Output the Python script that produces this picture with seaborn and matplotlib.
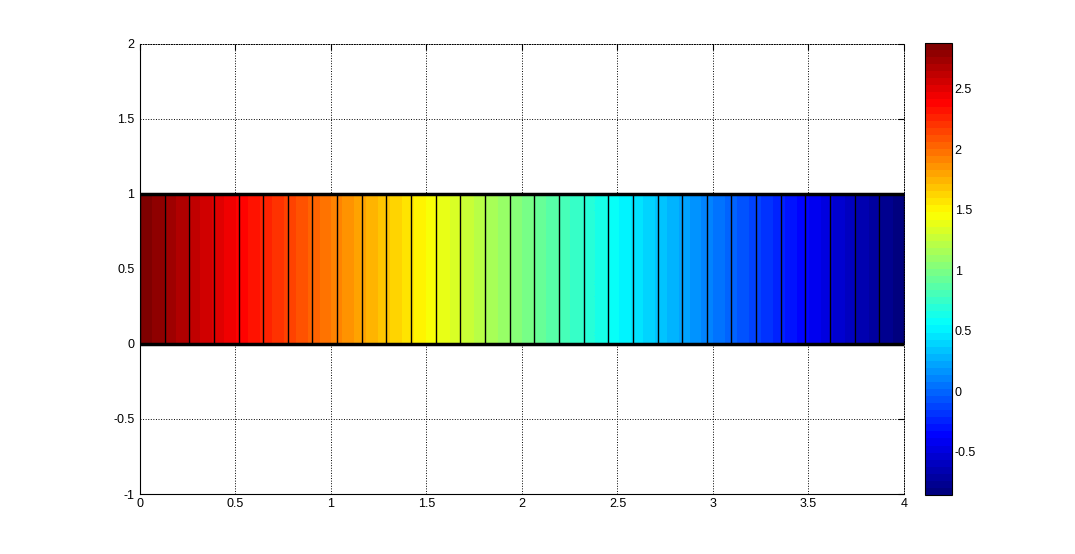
import matplotlib
matplotlib.use("Agg")
import matplotlib.pyplot as plt
from matplotlib.colors import LinearSegmentedColormap
import numpy as np
import seaborn as sns

# cell edges along x (31 cells between 0 and 4)
x_edges = [0.000, 0.129, 0.258, 0.387, 0.516, 0.645, 0.774, 0.903,
           1.032, 1.161, 1.290, 1.419, 1.548, 1.677, 1.806, 1.935,
           2.065, 2.194, 2.323, 2.452, 2.581, 2.710, 2.839, 2.968,
           3.097, 3.226, 3.355, 3.484, 3.613, 3.742, 3.871, 4.000]
# colour value at each edge node
node_vals = [2.88, 2.76, 2.64, 2.52, 2.40, 2.28, 2.16, 2.04,
             1.91, 1.79, 1.67, 1.55, 1.43, 1.31, 1.19, 1.07,
             0.95, 0.83, 0.71, 0.59, 0.47, 0.35, 0.23, 0.10,
             -0.02, -0.14, -0.26, -0.38, -0.50, -0.62, -0.74, -0.86]
strip_y = [0, 1]
x_ticks = [0, 0.5, 1, 1.5, 2, 2.5, 3, 3.5, 4]
x_ticklabels = ["0", "0.5", "1", "1.5", "2", "2.5", "3", "3.5", "4"]
y_ticks = [-1, -0.5, 0, 0.5, 1, 1.5, 2]
y_ticklabels = ["-1", "-0.5", "0", "0.5", "1", "1.5", "2"]
cb_ticks = [-0.5, 0, 0.5, 1, 1.5, 2, 2.5]
cb_ticklabels = ["-0.5", "0", "0.5", "1", "1.5", "2", "2.5"]

sns.set_style("white")
plt.rcParams["font.family"] = ["Liberation Sans", "DejaVu Sans"]
plt.rcParams["font.size"] = 9

# seaborn refuses "jet" -> MATLAB style jet, 64 levels
matlab_jet = {
    "red": [(0, 0, 0), (3 / 8, 0, 0), (5 / 8, 1, 1), (7 / 8, 1, 1), (1, 0.5, 0.5)],
    "green": [(0, 0, 0), (1 / 8, 0, 0), (3 / 8, 1, 1), (5 / 8, 1, 1), (7 / 8, 0, 0), (1, 0, 0)],
    "blue": [(0, 0.5, 0.5), (1 / 8, 1, 1), (3 / 8, 1, 1), (5 / 8, 0, 0), (1, 0, 0)],
}
cmap = LinearSegmentedColormap("matlab_jet", matlab_jet, N=64)

fig = plt.figure(figsize=(10.75, 5.54), dpi=100)
ax = fig.add_axes([0.1302, 0.1083, 0.7107, 0.8123])
cax = fig.add_axes([0.8605, 0.1065, 0.0251, 0.8159])

# interpolated shading between edge nodes (MATLAB-like "interp" look)
d = x_edges[1] - x_edges[0]
im = ax.imshow(np.array([node_vals]), cmap=cmap, aspect="auto",
               interpolation="bilinear", interpolation_stage="data",
               extent=[x_edges[0] - d / 2, x_edges[-1] + d / 2, strip_y[0], strip_y[1]],
               vmin=min(node_vals), vmax=max(node_vals), zorder=1)
ax.vlines(x_edges, strip_y[0], strip_y[1], colors="black", linewidth=1.0, zorder=2)
ax.hlines(strip_y, x_edges[0], x_edges[-1], colors="black", linewidth=2.5, zorder=3)

ax.set_xlim(0, 4)
ax.set_ylim(-1, 2)
ax.set_xticks(x_ticks)
ax.set_xticklabels(x_ticklabels)
ax.set_yticks(y_ticks)
ax.set_yticklabels(y_ticklabels)
ax.grid(True, color="black", linestyle=":", linewidth=0.7)
ax.tick_params(direction="in", length=4, width=0.8, top=True, right=True,
               colors="black", labelsize=9)
ax.tick_params(axis="x", pad=3)
ax.tick_params(axis="y", pad=4)
for side in ["left", "bottom"]:
    ax.spines[side].set_color("black")
    ax.spines[side].set_linewidth(0.8)
for side in ["top", "right"]:
    ax.spines[side].set_color("black")
    ax.spines[side].set_linewidth(0.7)
    ax.spines[side].set_linestyle(":")

cb = fig.colorbar(im, cax=cax)
cb.set_ticks(cb_ticks)
cb.set_ticklabels(cb_ticklabels)
cb.outline.set_edgecolor("black")
cb.outline.set_linewidth(0.8)
cax.tick_params(direction="in", length=4, width=0.8, left=True, right=True,
                colors="black", labelsize=9, pad=2)

fig.savefig("out.png", dpi=100, facecolor="white")
